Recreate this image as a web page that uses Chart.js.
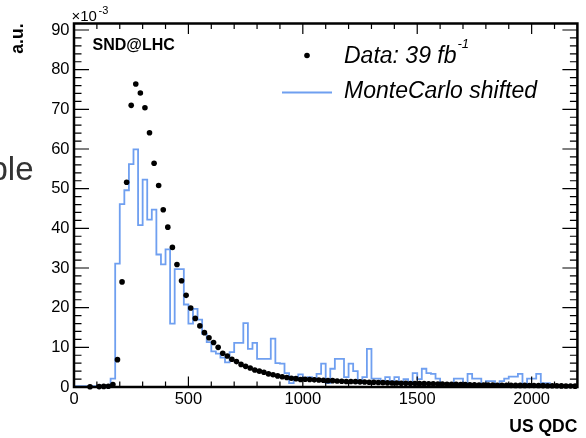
<!DOCTYPE html>
<html>
<head>
<meta charset="utf-8">
<script src="https://cdn.jsdelivr.net/npm/chart.js@4.4.1/dist/chart.umd.min.js"></script>
<style>
  html, body { margin: 0; padding: 0; background: #fff; }
  #wrap { position: relative; width: 586px; height: 438px; }
</style>
</head>
<body>
<div id="wrap"><canvas id="qdcChart" width="586" height="438"></canvas></div>
<script>
// histogram binning: 110 bins from 0 to 2200 QDC
const qdcRange = [0, 2200];
const qdcBins = 110;

// data points (a.u. x 10^-3), one per bin, null = empty bin
const dataValues = [
  null, null, null, 0.05, null, 0.1, 0.15, 0.2, 0.6, 6.9,
  26.5, 51.6, 71.0, 76.4, 74.1, 70.4, 64.1, 56.4, 50.8, 44.7,
  40.3, 35.2, 30.9, 26.8, 23.1, 19.9, 17.3, 15.4, 13.7, 12.4,
  11.2, 10.0, 8.5, 7.8, 7.0, 6.4, 5.7, 5.2, 4.8, 4.3,
  4.0, 3.7, 3.3, 3.1, 2.8, 2.6, 2.4, 2.2, 2.1, 1.9,
  1.95, 1.9, 1.8, 1.75, 1.7, 1.6, 1.6, 1.5, 1.45, 1.4,
  1.4, 1.35, 1.3, 1.25, 1.2, 1.2, 1.15, 1.1, 1.05, 1.0,
  1.0, 0.95, 0.95, 0.9, 0.9, 0.85, 0.85, 0.8, 0.8, 0.75,
  0.75, 0.7, 0.7, 0.65, 0.6, 0.6, 0.55, 0.55, 0.5, 0.5,
  0.5, 0.48, 0.45, 0.45, 0.45, 0.42, 0.4, 0.4, 0.4, 0.38,
  0.38, 0.36, 0.35, 0.33, 0.3, 0.3, 0.28, 0.27, 0.25, 0.22
];

// MonteCarlo shifted histogram contents
const mcValues = [
  0.2, 0.2, 0.2, 0.2, 0.2, 0.2, 0.2, 0.3, 0.4, 2.1,
  31.1, 46.1, 49.6, 56.2, 59.9, 40.8, 52.3, 42.2, 44.7, 33.4,
  30.9, 34.7, 16.0, 29.7, 29.7, 20.8, 16.0, 19.7, 17.0, 13.4,
  11.3, 9.0, 8.4, 7.4, 6.2, 8.8, 11.1, 11.1, 16.1, 9.6,
  11.1, 7.1, 7.1, 7.1, 12.2, 6.0, 5.9, 3.5, 1.0, 2.5,
  3.2, 2.1, 2.5, 2.1, 3.3, 5.9, 1.0, 4.6, 7.1, 7.1,
  2.5, 5.9, 4.0, 1.0, 2.5, 9.6, 2.1, 2.1, 1.5, 2.5,
  1.5, 2.5, 1.0, 2.0, 1.0, 3.5, 2.0, 4.6, 3.5, 3.3,
  2.1, 0.8, 0.8, 0.8, 2.1, 2.1, 1.0, 3.3, 2.1, 2.1,
  0.8, 1.5, 1.5, 0.8, 1.5, 2.1, 2.6, 2.6, 3.3, 0.4,
  2.1, 2.1, 3.3, 1.0, 1.0, 0.5, 0.5, 0.5, 0.5, 0.5
];

const yTickValues = [0, 10, 20, 30, 40, 50, 60, 70, 80, 90];
const xTickValues = [0, 500, 1000, 1500, 2000];

const FONT = '"Liberation Sans", Arial, Helvetica, sans-serif';
const mcBlue = '#6f9ff0';

const binWidth = (qdcRange[1] - qdcRange[0]) / qdcBins;
const binLow = i => qdcRange[0] + i * binWidth;

const dataPoints = [];
dataValues.forEach((v, i) => {
  if (v !== null) dataPoints.push({ x: binLow(i) + binWidth / 2, y: v });
});
const mcPoints = mcValues.map((v, i) => ({ x: binLow(i), y: v }));
mcPoints.push({ x: qdcRange[1], y: mcValues[mcValues.length - 1] });

// ROOT style frame, inner ticks and the labels on the pad
const rootFrame = {
  id: 'rootFrame',
  afterDraw(chart) {
    const { ctx, chartArea: a, scales: { x, y } } = chart;
    ctx.save();
    ctx.strokeStyle = '#000';
    ctx.lineWidth = 1.2;
    ctx.beginPath();
    for (let i = 0; i * 2 <= y.max; i++) {
      const py = y.getPixelForValue(i * 2);
      const len = i % 5 === 0 ? 15 : 7.5;
      ctx.moveTo(a.left, py); ctx.lineTo(a.left + len, py);
      ctx.moveTo(a.right, py); ctx.lineTo(a.right - len, py);
    }
    for (let i = 0; i * 100 <= x.max; i++) {
      const px = x.getPixelForValue(i * 100);
      const len = i % 5 === 0 ? 10.5 : 5.5;
      ctx.moveTo(px, a.bottom); ctx.lineTo(px, a.bottom - len);
      ctx.moveTo(px, a.top); ctx.lineTo(px, a.top + len);
    }
    ctx.stroke();
    ctx.lineWidth = 2.5;
    ctx.strokeRect(a.left, a.top, a.right - a.left, a.bottom - a.top);

    ctx.fillStyle = '#000';
    ctx.textBaseline = 'alphabetic';
    ctx.textAlign = 'left';
    // exponent of the y axis
    ctx.font = '15px ' + FONT;
    ctx.fillText('\u00d710', 71.5, 20.5);
    ctx.font = '11px ' + FONT;
    ctx.fillText('-3', 98.5, 14);
    // experiment tag
    ctx.font = 'bold 16px ' + FONT;
    ctx.fillText('SND@LHC', 92.5, 50);

    // legend
    const dsData = chart.data.datasets[1];
    const dsMC = chart.data.datasets[0];
    ctx.beginPath();
    ctx.arc(307, 55.5, 2.8, 0, Math.PI * 2);
    ctx.fillStyle = dsData.pointBackgroundColor;
    ctx.fill();
    ctx.strokeStyle = dsMC.borderColor;
    ctx.lineWidth = dsMC.borderWidth;
    ctx.beginPath();
    ctx.moveTo(282, 92.5); ctx.lineTo(332, 92.5);
    ctx.stroke();
    ctx.fillStyle = '#000';
    ctx.font = 'italic 23px ' + FONT;
    ctx.fillText('Data: 39 fb', 344, 63);
    const w = ctx.measureText('Data: 39 fb').width;
    ctx.font = 'italic 13px ' + FONT;
    ctx.fillText('-1', 344 + w + 1, 48);
    ctx.font = 'italic 23px ' + FONT;
    ctx.fillText('MonteCarlo shifted', 344, 98);

    // fragment of the slide text left of the pad
    ctx.fillStyle = '#333';
    ctx.textAlign = 'right';
    ctx.font = '33px ' + FONT;
    ctx.fillText('ble', 33.5, 180);
    ctx.restore();
  }
};

const ctx = document.getElementById('qdcChart').getContext('2d');
new Chart(ctx, {
  type: 'scatter',
  data: {
    datasets: [
      {
        label: 'MonteCarlo shifted',
        type: 'line',
        data: mcPoints,
        stepped: 'after',
        borderColor: mcBlue,
        borderWidth: 1.8,
        pointRadius: 0,
        fill: false,
        clip: false,
        order: 2
      },
      {
        label: 'Data: 39 fb-1',
        data: dataPoints,
        pointRadius: 2.8,
        pointBackgroundColor: '#000',
        pointBorderWidth: 0,
        clip: false,
        order: 1
      }
    ]
  },
  options: {
    responsive: false,
    animation: false,
    devicePixelRatio: 1,
    layout: { padding: { left: 0, right: 8.6, top: 23.5, bottom: 0 } },
    plugins: { legend: { display: false }, tooltip: { enabled: false } },
    scales: {
      x: {
        type: 'linear',
        bounds: 'data',
        min: qdcRange[0],
        max: qdcRange[1],
        afterBuildTicks: s => { s.ticks = xTickValues.map(v => ({ value: v })); },
        afterFit: s => { s.height = 51; s.paddingRight = 0; s.paddingLeft = 0; },
        grid: { display: false, drawTicks: false },
        border: { display: false },
        ticks: {
          autoSkip: false,
          maxRotation: 0,
          padding: 3,
          color: '#000',
          font: { family: FONT, size: 16.5 },
          callback: v => String(v)
        },
        title: {
          display: true, text: 'US QDC', align: 'end', color: '#000',
          font: { family: FONT, size: 17.5, weight: 'bold' },
          padding: { top: 0, bottom: 0 }
        }
      },
      y: {
        type: 'linear',
        bounds: 'data',
        min: 0,
        max: 91.64,
        afterBuildTicks: s => { s.ticks = yTickValues.map(v => ({ value: v })); },
        afterFit: s => { s.width = 74; s.paddingTop = 0; s.paddingBottom = 0; },
        grid: { display: false, drawTicks: false },
        border: { display: false },
        ticks: {
          autoSkip: false,
          padding: 4.5,
          color: '#000',
          font: { family: FONT, size: 16.5 },
          callback: v => String(v)
        },
        title: {
          display: true, text: 'a.u.', align: 'end', color: '#000',
          font: { family: FONT, size: 17.5, weight: 'bold' },
          padding: { top: 8, bottom: 0 }
        }
      }
    }
  },
  plugins: [rootFrame]
});
</script>
</body>
</html>
